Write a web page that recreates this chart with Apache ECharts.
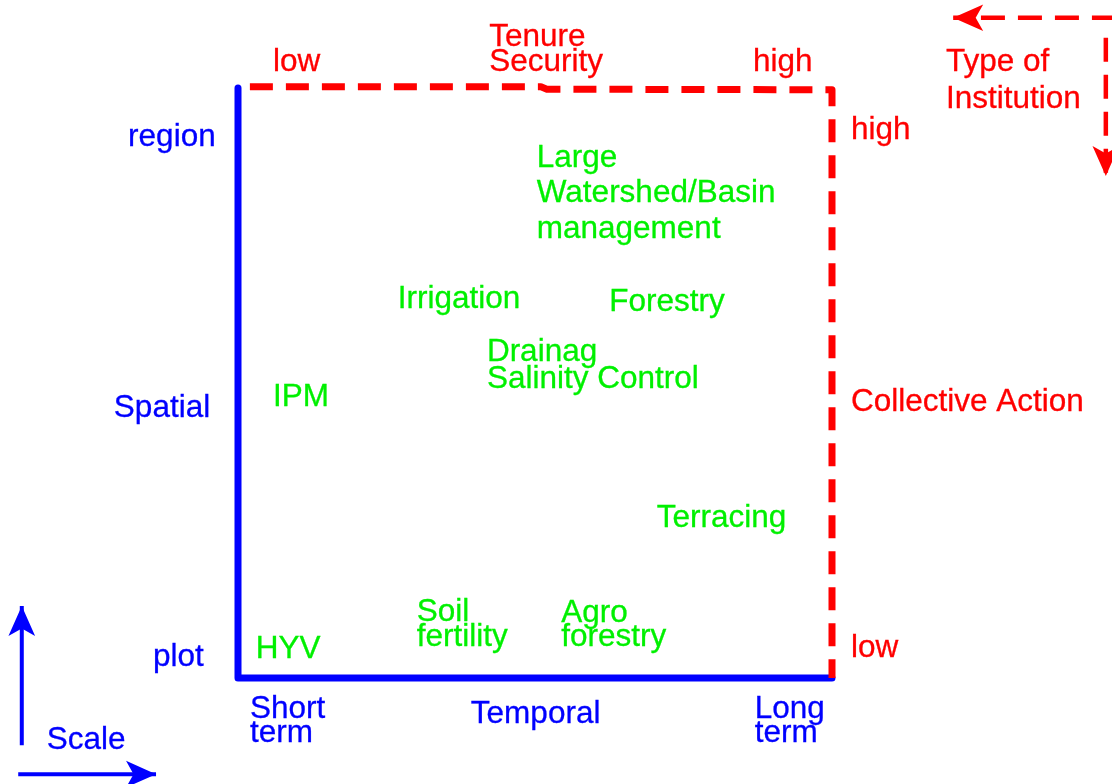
<!DOCTYPE html>
<html>
<head>
<meta charset="utf-8">
<script src="https://cdn.jsdelivr.net/npm/echarts@6/dist/echarts.min.js"></script>
<style>html,body{margin:0;padding:0;background:#fff}#c{width:1112px;height:784px}</style>
</head>
<body>
<div id="c"></div>
<script>
// Diagram coordinates: Temporal axis 0 (short term) .. 10 (long term), Spatial axis 0 (plot) .. 10 (region)
const activityNames = ["Large\nWatershed/Basin\nmanagement", "Irrigation", "Forestry", "Drainag\nSalinity Control", "IPM", "Terracing", "Soil\nfertility", "Agro\nforestry", "HYV"];
const activityTemporal = [5.03, 2.69, 6.25, 4.19, 0.59, 7.05, 3.01, 5.44, 0.30];
const activitySpatial = [8.21, 6.42, 6.37, 5.29, 4.76, 2.71, 0.90, 0.89, 0.49];
const activityLineHeight = [35.5, 30, 30, 27, 30, 30, 25, 24, 30];

const scaleNames = ["region", "Spatial", "plot", "Short\nterm", "Temporal", "Long\nterm", "Scale"];
const scaleX = [-1.85, -2.09, -1.43, 0.20, 3.92, 8.70, -3.22];
const scaleY = [9.16, 4.57, 0.35, -0.73, -0.62, -0.73, -1.06];
const scaleLineHeight = [30, 30, 30, 24, 30, 24, 30];

const institutionNames = ["Tenure\nSecurity", "low", "high", "Type of\nInstitution", "high", "Collective Action", "low"];
const institutionX = [4.23, 0.59, 8.67, 11.92, 10.32, 10.32, 10.32];
const institutionY = [10.65, 10.43, 10.43, 10.12, 9.28, 4.67, 0.50];
const institutionLineHeight = [25, 30, 30, 37, 30, 30, 30];

const scaleFrame = [[0, 10], [0, 0], [10, 0]];
const institutionFrame = [[0.2, 10.02], [5.1, 10.02], [5.2, 9.98], [10, 9.97], [10, 0]];
// arrows: [start, arrow tip], head rotation
const scaleArrows = [[[-3.64, -1.14], [-3.64, 1.22]], [[-3.70, -1.63], [-1.38, -1.63]]];
const scaleArrowRotate = [0, -90];
const institutionArrows = [[[14.78, 11.19], [12.04, 11.19]], [[14.61, 10.85], [14.61, 8.51]]];
const institutionArrowRotate = [90, 180];

const FONT = "Liberation Sans, Arial, sans-serif";
const GREEN = "#00f000", BLUE = "#0000ff", RED = "#ff0000";

// Layout: the 0..10 box sits at these pixel edges; axes span the whole canvas
const W = 1112, H = 784, BOX_L = 238, BOX_R = 832, BOX_T = 88, BOX_B = 678;
const kx = 10 / (BOX_R - BOX_L), ky = 10 / (BOX_B - BOX_T);
const xMin = -BOX_L * kx, xMax = (W - BOX_L) * kx;
const yMin = -(H - BOX_B) * ky, yMax = BOX_B * ky;

function labelSeries(names, xs, ys, lhs, color) {
  return {
    type: "scatter",
    symbolSize: 0,
    silent: true,
    clip: false,
    itemStyle: { opacity: 1 },
    data: names.map((n, i) => ({
      name: n,
      value: [xs[i], ys[i]],
      label: { lineHeight: lhs[i] }
    })),
    label: {
      show: true,
      position: "right",
      distance: 0,
      formatter: p => p.name,
      color: color,
      opacity: 1,
      fontSize: 31.5,
      fontFamily: FONT,
      textBorderColor: color,
      textBorderWidth: 0.3,
      align: "left",
      verticalAlign: "middle"
    }
  };
}

function arrowSeries(coords, rotate, color, width, dash) {
  return {
    type: "line",
    clip: false,
    silent: true,
    showAllSymbol: true,
    lineStyle: { color: color, width: width, type: dash || "solid", opacity: 1 },
    itemStyle: { color: color, opacity: 1 },
    data: [
      { value: coords[0], symbol: "none" },
      { value: coords[1], symbol: "arrow", symbolSize: [20, 30], symbolRotate: rotate, symbolKeepAspect: false }
    ]
  };
}

const series = [
  {
    type: "lines", coordinateSystem: "cartesian2d", polyline: true, clip: false, silent: true,
    symbol: "none",
    lineStyle: { color: BLUE, width: 7, cap: "round", join: "round", opacity: 1 },
    data: [{ coords: scaleFrame }]
  },
  {
    type: "lines", coordinateSystem: "cartesian2d", polyline: true, clip: false, silent: true,
    symbol: "none",
    lineStyle: { color: RED, width: 7, type: [23, 13], join: "round", opacity: 1 },
    data: [{ coords: institutionFrame }]
  }
];
scaleArrows.forEach((c, i) => series.push(arrowSeries(c, scaleArrowRotate[i], BLUE, 4)));
institutionArrows.forEach((c, i) => series.push(arrowSeries(c, institutionArrowRotate[i], RED, 4.5, [24, 13])));
series.push(labelSeries(activityNames, activityTemporal, activitySpatial, activityLineHeight, GREEN));
series.push(labelSeries(scaleNames, scaleX, scaleY, scaleLineHeight, BLUE));
series.push(labelSeries(institutionNames, institutionX, institutionY, institutionLineHeight, RED));

const chart = echarts.init(document.getElementById("c"), null, { renderer: "canvas" });
chart.setOption({
  animation: false,
  backgroundColor: "#ffffff",
  grid: { left: 0, right: 0, top: 0, bottom: 0 },
  xAxis: { type: "value", min: xMin, max: xMax, show: false },
  yAxis: { type: "value", min: yMin, max: yMax, show: false },
  series: series
});
</script>
</body>
</html>
